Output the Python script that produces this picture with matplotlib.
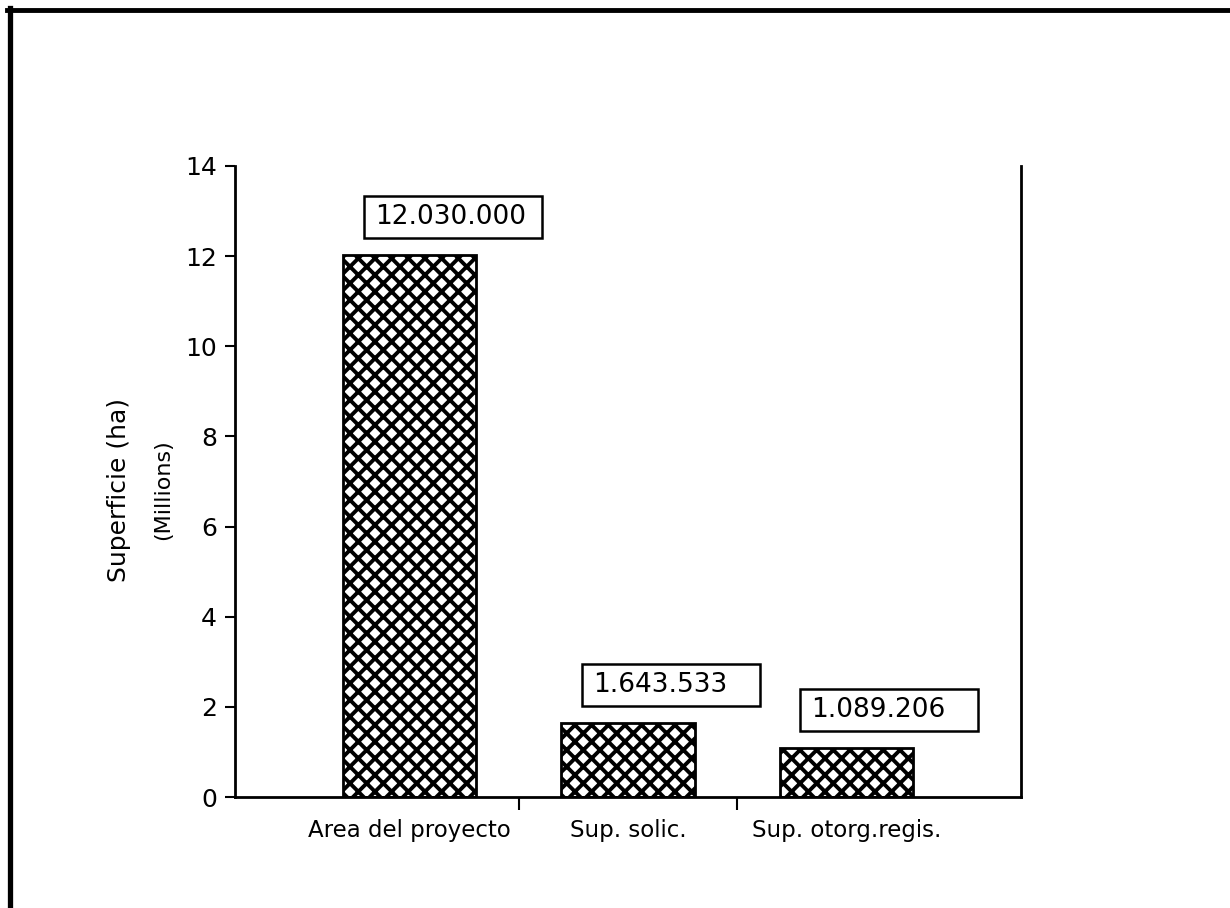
import numpy as np
from matplotlib import pyplot as plt
from matplotlib import transforms
from matplotlib.lines import Line2D
from matplotlib.patches import Rectangle

# data (hectares)
categories = ["Area del proyecto", "Sup. solic.", "Sup. otorg.regis."]
superficie = [12030000, 1643533, 1089206]
value_labels = ["12.030.000", "1.643.533", "1.089.206"]
yticks = [0, 2, 4, 6, 8, 10, 12, 14]

plt.rcParams['font.family'] = ['DejaVu Sans']
plt.rcParams['hatch.linewidth'] = 2.8

fig = plt.figure(figsize=(12.3, 9.08), dpi=100)
ax = fig.add_axes([0.1911, 0.1222, 0.639, 0.695])

x = np.arange(len(categories))
vals = np.array(superficie) / 1e6  # millions
ax.bar(x, vals, width=0.61, color='white', edgecolor='black',
       hatch='xx', linewidth=2)

ax.set_xlim(-0.8, 2.8)
ax.set_ylim(0, 14)
ax.set_yticks(yticks)
ax.set_yticklabels([str(t) for t in yticks], fontsize=18)
ax.tick_params(axis='y', direction='out', length=7, width=1.5, pad=6)

# category labels with no tick marks, minor ticks between the groups
ax.set_xticks(x)
ax.set_xticklabels(categories, fontsize=16.5)
ax.tick_params(axis='x', which='major', length=0, pad=16)
ax.set_xticks([0.5, 1.5], minor=True)
ax.tick_params(axis='x', which='minor', direction='out', length=9, width=1.5)

for side in ['left', 'right', 'bottom']:
    ax.spines[side].set_linewidth(2)
ax.spines['top'].set_visible(False)

# value boxes above bars (fixed size box, offsets in inches)
for xi, v, lab in zip(x, vals, value_labels):
    tr = fig.dpi_scale_trans + transforms.ScaledTranslation(xi, v, ax.transData)
    ax.add_patch(Rectangle((-0.46, 0.17), 1.78, 0.42, transform=tr,
                           facecolor='white', edgecolor='black', lw=1.8,
                           clip_on=False))
    ax.text(-0.35, 0.38, lab, transform=tr, fontsize=19, ha='left',
            va='center', clip_on=False)

# y label, two lines
fig.text(119 / 1230, 1 - 490 / 908, "Superficie (ha)", rotation=90,
         ha='center', va='center', fontsize=18)
fig.text(163 / 1230, 1 - 490 / 908, "(Millions)", rotation=90,
         ha='center', va='center', fontsize=16)

# page frame
fig.add_artist(Line2D([9.5 / 1230, 9.5 / 1230], [1 - 8 / 908, 0],
                      transform=fig.transFigure, color='black', lw=3.8))
fig.add_artist(Line2D([7 / 1230, 1], [1 - 10 / 908, 1 - 10 / 908],
                      transform=fig.transFigure, color='black', lw=3.5))

fig.savefig('out.png', dpi=100)
